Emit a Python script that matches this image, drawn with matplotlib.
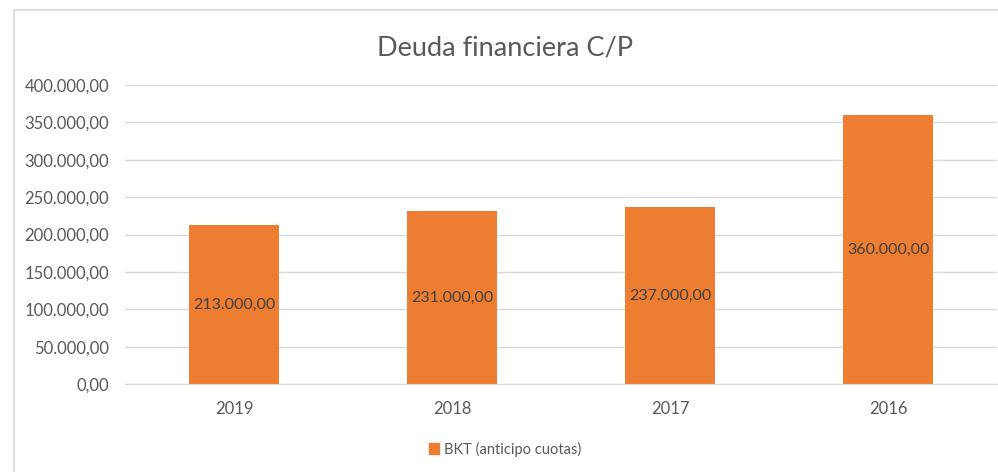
import matplotlib.pyplot as plt
from matplotlib.patches import Rectangle, Patch
from matplotlib.ticker import FuncFormatter

years = ["2019", "2018", "2017", "2016"]
valores = [213000, 231000, 237000, 360000]
serie = "BKT (anticipo cuotas)"

naranja = "#ED7D31"
gris_texto = "#595959"
gris_linea = "#D9D9D9"

plt.rcParams['font.family'] = ['Lato', 'DejaVu Sans']

def formato(v, pos=None):
    s = f"{v:,.2f}"
    return s.replace(",", "X").replace(".", ",").replace("X", ".")

W, H = 998, 472
fig = plt.figure(figsize=(W / 100, H / 100), dpi=100)

# marco del grafico
fig.patches.append(Rectangle((14 / W, -0.1), 1.2, 1.1 - 10 / H, transform=fig.transFigure,
                             fill=False, edgecolor=gris_linea, linewidth=1.2))

ax = fig.add_axes([125 / W, 1 - 384 / H, (997 - 125) / W, (384 - 85) / H])
x = range(len(years))
bars = ax.bar(x, valores, width=0.41, color=naranja, zorder=2)
ax.set_xlim(-0.5, len(years) - 0.5)
ax.set_ylim(0, 400000)
ax.set_yticks(range(0, 400001, 50000))
ax.yaxis.set_major_formatter(FuncFormatter(formato))
ax.set_xticks(list(x))
ax.set_xticklabels(years)
ax.grid(axis='y', color=gris_linea, linewidth=1, zorder=0)
for s in ["top", "right", "left"]:
    ax.spines[s].set_visible(False)
ax.spines["bottom"].set_color(gris_linea)
ax.tick_params(axis='both', length=0, colors=gris_texto, labelsize=12)
ax.tick_params(axis='y', pad=11.5)
ax.tick_params(axis='x', pad=12)

for b, v in zip(bars, valores):
    ax.text(b.get_x() + b.get_width() / 2, v / 2, formato(v), ha='center', va='center',
            fontsize=11.5, color="#404040")

fig.text(505 / W, 1 - 48 / H, "Deuda financiera C/P", ha='center', va='center',
         fontsize=19.5, color=gris_texto)

fig.legend(handles=[Patch(color=naranja, label=serie)], loc='center',
           bbox_to_anchor=(505 / W, 1 - 449 / H), frameon=False, fontsize=10.5,
           labelcolor=gris_texto, handlelength=0.7, handleheight=0.7, handletextpad=0.3)

fig.savefig("out.png", dpi=100)
